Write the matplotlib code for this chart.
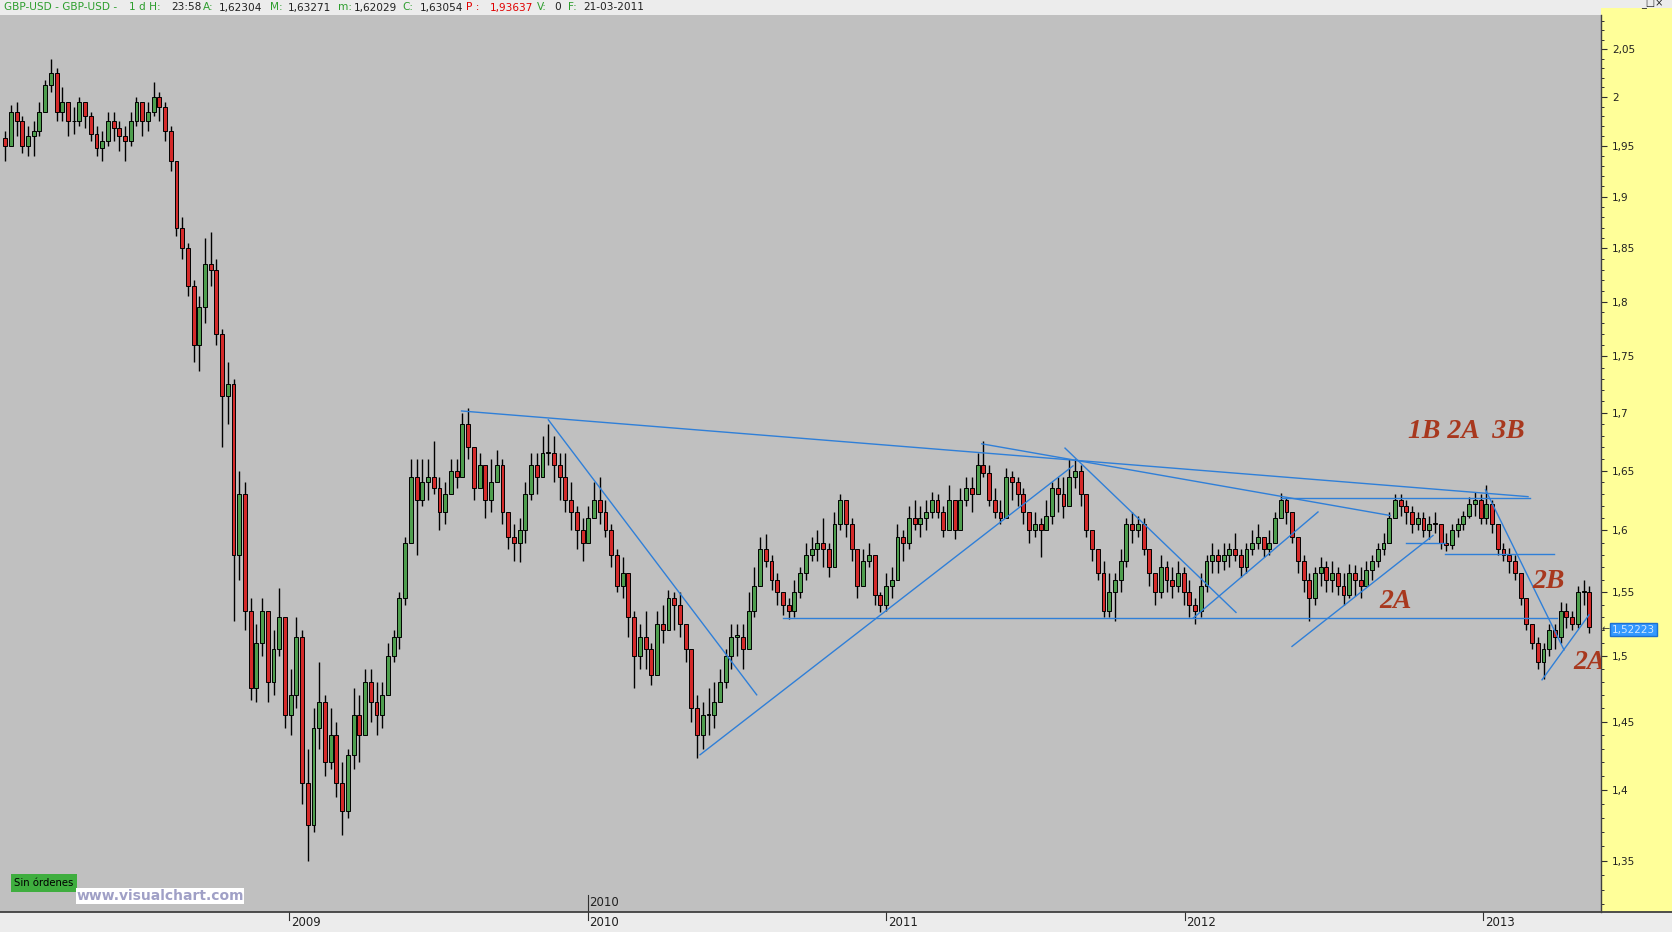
import numpy as np
import pandas as pd
import matplotlib
matplotlib.use("Agg")
import matplotlib.pyplot as plt
from matplotlib.patches import Rectangle
from matplotlib.lines import Line2D
from matplotlib.ticker import FixedLocator, FixedFormatter, NullFormatter

# ---------------- data (weekly GBP-USD candles) ----------------
first_open = 1.958
close = [
1.950,1.985,1.975,1.950,1.960,1.965,1.985,2.012,2.025,1.985,
1.995,1.975,1.975,1.995,1.980,1.962,1.948,1.955,1.975,1.968,
1.960,1.955,1.975,1.995,1.975,1.985,2.000,1.990,1.965,1.935,
1.870,1.850,1.815,1.760,1.795,1.835,1.830,1.770,1.715,1.725,
1.580,1.630,1.535,1.475,1.510,1.535,1.480,1.505,1.530,1.455,
1.470,1.515,1.405,1.375,1.445,1.465,1.420,1.440,1.405,1.385,
1.425,1.455,1.440,1.480,1.465,1.455,1.470,1.500,1.515,1.545,
1.590,1.645,1.625,1.640,1.645,1.635,1.615,1.630,1.650,1.645,
1.690,1.670,1.635,1.655,1.625,1.640,1.655,1.615,1.595,1.590,
1.600,1.630,1.655,1.645,1.665,1.665,1.655,1.645,1.625,1.615,
1.600,1.590,1.610,1.625,1.615,1.600,1.580,1.555,1.565,1.530,
1.500,1.515,1.505,1.485,1.525,1.520,1.545,1.540,1.525,1.505,
1.460,1.440,1.455,1.455,1.465,1.480,1.500,1.515,1.515,1.505,
1.535,1.555,1.585,1.575,1.560,1.550,1.540,1.535,1.550,1.565,
1.580,1.585,1.590,1.585,1.570,1.605,1.625,1.605,1.585,1.555,
1.575,1.580,1.548,1.540,1.555,1.560,1.595,1.590,1.610,1.605,
1.610,1.615,1.625,1.615,1.600,1.625,1.600,1.625,1.635,1.630,
1.655,1.648,1.625,1.615,1.610,1.645,1.640,1.630,1.615,1.600,
1.605,1.600,1.612,1.635,1.630,1.620,1.645,1.650,1.630,1.600,
1.585,1.565,1.535,1.550,1.560,1.575,1.605,1.600,1.605,1.585,
1.565,1.550,1.570,1.560,1.555,1.565,1.550,1.540,1.535,1.555,
1.575,1.580,1.575,1.580,1.585,1.580,1.570,1.585,1.590,1.595,
1.585,1.590,1.610,1.625,1.615,1.595,1.575,1.560,1.545,1.565,
1.570,1.560,1.565,1.555,1.548,1.565,1.560,1.555,1.568,1.575,
1.585,1.590,1.610,1.625,1.620,1.615,1.605,1.610,1.600,1.605,
1.605,1.590,1.588,1.600,1.605,1.612,1.622,1.625,1.610,1.622,
1.605,1.585,1.580,1.575,1.565,1.545,1.525,1.510,1.495,1.505,
1.520,1.515,1.535,1.530,1.525,1.550,1.550,1.5222]

high = [
1.965,1.992,1.995,1.980,1.970,1.975,1.995,2.018,2.040,2.030,
2.010,1.995,1.990,2.000,1.995,1.985,1.970,1.965,1.985,1.985,
1.975,1.970,1.985,2.000,1.995,1.995,2.015,2.005,1.995,1.970,
1.935,1.880,1.855,1.820,1.805,1.860,1.866,1.840,1.775,1.745,
1.730,1.650,1.640,1.545,1.525,1.545,1.535,1.520,1.553,1.530,
1.490,1.530,1.520,1.430,1.460,1.495,1.470,1.460,1.450,1.420,
1.430,1.475,1.470,1.490,1.490,1.480,1.480,1.510,1.520,1.550,
1.595,1.660,1.660,1.660,1.660,1.675,1.645,1.640,1.660,1.660,
1.700,1.704,1.670,1.665,1.655,1.660,1.668,1.660,1.610,1.605,
1.610,1.640,1.665,1.665,1.680,1.690,1.680,1.665,1.665,1.640,
1.620,1.610,1.620,1.640,1.645,1.625,1.605,1.585,1.578,1.560,
1.535,1.525,1.535,1.510,1.535,1.540,1.552,1.550,1.550,1.525,
1.505,1.470,1.465,1.475,1.480,1.490,1.505,1.525,1.525,1.525,
1.550,1.570,1.595,1.597,1.580,1.565,1.550,1.545,1.560,1.570,
1.590,1.595,1.600,1.610,1.590,1.615,1.630,1.625,1.610,1.580,
1.585,1.590,1.580,1.550,1.565,1.570,1.605,1.600,1.620,1.625,
1.620,1.625,1.632,1.630,1.620,1.638,1.625,1.635,1.645,1.645,
1.665,1.675,1.655,1.635,1.625,1.652,1.650,1.645,1.635,1.615,
1.615,1.610,1.625,1.640,1.645,1.645,1.660,1.660,1.655,1.620,
1.600,1.580,1.575,1.565,1.565,1.585,1.610,1.615,1.612,1.610,
1.585,1.565,1.580,1.575,1.570,1.575,1.570,1.560,1.545,1.565,
1.580,1.590,1.585,1.590,1.590,1.598,1.585,1.590,1.600,1.605,
1.595,1.600,1.615,1.631,1.628,1.615,1.595,1.580,1.565,1.570,
1.578,1.575,1.575,1.570,1.565,1.573,1.572,1.570,1.575,1.580,
1.590,1.598,1.615,1.630,1.630,1.625,1.620,1.615,1.615,1.612,
1.615,1.605,1.598,1.605,1.610,1.616,1.628,1.632,1.630,1.638,
1.625,1.605,1.590,1.586,1.580,1.565,1.545,1.525,1.515,1.510,
1.525,1.525,1.542,1.541,1.535,1.555,1.560,1.555]

low = [
1.935,1.950,1.960,1.943,1.940,1.940,1.960,1.985,2.005,1.975,
1.975,1.960,1.962,1.970,1.968,1.955,1.940,1.935,1.950,1.955,
1.945,1.935,1.950,1.970,1.960,1.965,1.980,1.975,1.955,1.925,
1.862,1.840,1.805,1.745,1.737,1.780,1.815,1.760,1.670,1.690,
1.527,1.560,1.520,1.466,1.465,1.500,1.465,1.470,1.500,1.445,
1.440,1.460,1.390,1.350,1.370,1.430,1.410,1.415,1.395,1.368,
1.380,1.415,1.420,1.440,1.450,1.440,1.445,1.475,1.495,1.505,
1.540,1.590,1.580,1.620,1.625,1.630,1.600,1.605,1.630,1.635,
1.645,1.660,1.625,1.635,1.610,1.615,1.640,1.605,1.585,1.575,
1.574,1.590,1.625,1.630,1.645,1.655,1.640,1.625,1.615,1.600,
1.585,1.575,1.590,1.610,1.605,1.595,1.570,1.550,1.545,1.515,
1.475,1.490,1.490,1.478,1.490,1.510,1.525,1.520,1.515,1.495,
1.450,1.423,1.430,1.440,1.445,1.465,1.475,1.490,1.500,1.490,
1.510,1.530,1.560,1.570,1.552,1.540,1.532,1.529,1.530,1.545,
1.560,1.575,1.575,1.570,1.562,1.580,1.600,1.595,1.575,1.545,
1.555,1.570,1.540,1.534,1.535,1.545,1.565,1.575,1.585,1.600,
1.595,1.600,1.610,1.610,1.595,1.600,1.593,1.600,1.620,1.615,
1.630,1.645,1.620,1.610,1.605,1.610,1.625,1.620,1.605,1.590,
1.595,1.578,1.600,1.605,1.615,1.610,1.620,1.635,1.620,1.595,
1.575,1.560,1.530,1.530,1.527,1.550,1.570,1.590,1.595,1.580,
1.555,1.540,1.545,1.550,1.545,1.550,1.540,1.530,1.525,1.530,
1.550,1.565,1.565,1.568,1.570,1.575,1.562,1.565,1.580,1.585,
1.578,1.580,1.590,1.610,1.605,1.590,1.565,1.550,1.527,1.540,
1.555,1.550,1.550,1.548,1.540,1.545,1.547,1.545,1.555,1.560,
1.570,1.580,1.590,1.610,1.612,1.605,1.598,1.600,1.595,1.593,
1.598,1.585,1.583,1.585,1.595,1.600,1.610,1.612,1.605,1.605,
1.598,1.580,1.575,1.565,1.560,1.540,1.520,1.505,1.490,1.482,
1.500,1.505,1.510,1.522,1.520,1.522,1.540,1.518]

week_start = "2008-01-19"

# trend lines drawn on the chart: (year0, price0, year1, price1)
trend_lines = [
    (2009.578, 1.7015, 2013.1508, 1.6281),
    (2011.3206, 1.6730, 2012.6884, 1.6124),
    (2012.3233, 1.6270, 2013.1575, 1.6270),
    (2009.8687, 1.6938, 2010.5668, 1.4702),
    (2010.3769, 1.4255, 2011.6265, 1.6541),
    (2010.6549, 1.5292, 2013.2479, 1.5292),
    (2011.5997, 1.6693, 2012.1725, 1.5339),
    (2012.0295, 1.5295, 2012.4472, 1.6153),
    (2012.3601, 1.5073, 2012.8325, 1.5959),
    (2012.7420, 1.5896, 2012.8727, 1.5896),
    (2012.8727, 1.5808, 2013.2379, 1.5808),
    (2013.0084, 1.6338, 2013.2714, 1.5046),
    (2013.1977, 1.4816, 2013.3551, 1.5320),
]

# wave labels: (text, year, price)
wave_labels = [
    ("1B 2A  3B", 2012.943, 1.6834),
    ("2A", 2012.7085, 1.5423),
    ("2B", 2013.2211, 1.5582),
    ("2A", 2013.3585, 1.4946),
]

y_major = [1.35, 1.40, 1.45, 1.50, 1.55, 1.60, 1.65, 1.70, 1.75, 1.80, 1.85, 1.90, 1.95, 2.00, 2.05]
y_major_labels = ["1,35", "1,4", "1,45", "1,5", "1,55", "1,6", "1,65", "1,7", "1,75", "1,8",
                  "1,85", "1,9", "1,95", "2", "2,05"]
years = [2009, 2010, 2011, 2012, 2013]
last_price_label = "1,52223"

# ---------------- figure ----------------
W, H = 1672, 932
fig = plt.figure(figsize=(W / 100, H / 100), dpi=100, facecolor="#ececec")

def fx(px):
    return px / W

def fy(py):
    return 1 - py / H

PLOT_R, PLOT_T, PLOT_B = 1601, 15, 912
ax = fig.add_axes([0, fy(PLOT_B), PLOT_R / W, (PLOT_B - PLOT_T) / H])
ax.set_facecolor("#c0c0c0")

# yellow price-axis panel
fig.patches.append(Rectangle((fx(PLOT_R), fy(PLOT_B)), (W - PLOT_R) / W, (PLOT_B - 8) / H,
                             transform=fig.transFigure, facecolor="#ffff99",
                             edgecolor="none", zorder=-1))
fig.lines.append(Line2D([0, 1], [fy(PLOT_B), fy(PLOT_B)], transform=fig.transFigure,
                        color="#404040", lw=1.3, zorder=5))

# x positions (decimal years)
dates = pd.date_range(week_start, periods=len(close), freq="7D")
days_in_year = np.where(dates.is_leap_year, 366, 365)
xpos = dates.year.values + (dates.dayofyear.values - 1) / days_in_year

c = np.array(close)
o = np.r_[first_open, c[:-1]]
h = np.maximum(np.array(high), np.maximum(o, c))
l = np.minimum(np.array(low), np.minimum(o, c))

step = 7 / 365.25
up = c >= o
colors = np.where(up, "#4e9e4e", "#d42a2a")
ax.vlines(xpos, l, h, color="black", lw=1.0, zorder=2)
ax.bar(xpos, np.maximum(np.abs(c - o), 0.0008), bottom=np.minimum(o, c), width=step * 0.68,
       color=colors, edgecolor="black", linewidth=0.7, zorder=3)

for x0, p0, x1, p1 in trend_lines:
    ax.plot([x0, x1], [p0, p1], color="#2f7fd8", lw=1.0, zorder=4)

for txt, xv, pv in wave_labels:
    ax.text(xv, pv, txt, ha="center", va="center", fontsize=20, color="#a8381e",
            fontweight="bold", fontstyle="italic", family=["Liberation Serif", "DejaVu Serif"],
            zorder=6, clip_on=True)

ax.set_yscale("log")
ax.set_ylim(1.3147, 2.0862)
ax.set_xlim(2008.0318, 2013.3953)

ax.yaxis.tick_right()
ax.yaxis.set_major_locator(FixedLocator(y_major))
ax.yaxis.set_major_formatter(FixedFormatter(y_major_labels))
minor = [round(v, 2) for v in np.arange(1.32, 2.085, 0.01) if all(abs(v - m) > 1e-6 for m in y_major)]
ax.yaxis.set_minor_locator(FixedLocator(minor))
ax.yaxis.set_minor_formatter(NullFormatter())
ax.tick_params(axis="y", which="major", direction="out", length=4, width=0.8,
               color="#303030", pad=4, labelsize=7.5, labelcolor="#202020")
ax.tick_params(axis="y", which="minor", direction="out", length=2.2, width=0.7, color="#303030")
ax.set_xticks([])
for side in ["top", "left", "bottom"]:
    ax.spines[side].set_visible(False)
ax.spines["right"].set_color("#404040")
ax.spines["right"].set_linewidth(1.0)

# bottom date strip
axb = fig.add_axes([0, 0, PLOT_R / W, (H - PLOT_B) / H])
axb.set_xlim(ax.get_xlim())
axb.set_ylim(0, 1)
axb.axis("off")
narrow = ["Liberation Sans Narrow", "DejaVu Sans"]
for yr in years:
    axb.plot([yr, yr], [0.62, 1.0], color="#303030", lw=0.8)
    axb.text(yr + 0.006, 0.47, str(yr), ha="left", va="center", fontsize=8.5,
             color="#202020", family=narrow)

# cursor date label above the axis
xt = ax.get_xaxis_transform()
ax.plot([2010, 2010], [0, 17 / 897], transform=xt, color="#303030", lw=0.8, clip_on=False)
ax.text(2010.006, 9 / 897, "2010", transform=xt, ha="left", va="center", fontsize=8.5,
        color="#202020", family=narrow)

# overlays
fig.text(fx(44), fy(883), "Sin \u00f3rdenes", ha="center", va="center", fontsize=7.3,
         color="black", bbox=dict(boxstyle="square,pad=0.35", facecolor="#3fae3f", edgecolor="none"))
fig.text(fx(160), fy(896), "www.visualchart.com", ha="center", va="center", fontsize=10,
         fontweight="bold", color="#a0a0c6",
         bbox=dict(boxstyle="square,pad=0.05", facecolor="white", edgecolor="none"))

# last price marker
fig.text(fx(1606), fy(629.5), "\u2190", ha="center", va="center", fontsize=7, color="#303030")
fig.text(fx(1633.5), fy(629.5), last_price_label, ha="center", va="center", fontsize=7.5,
         color="#cfe6ff", bbox=dict(boxstyle="square,pad=0.18", facecolor="#3399ff", edgecolor="#1c6fd0"))

# header
G, K, R = "#2e9e2e", "#202020", "#e00000"
header = [(4, "GBP-USD - GBP-USD -", G), (129, "1 d H:", G), (171, "23:58", K),
          (203, "A:", G), (219, "1,62304", K), (270, "M:", G), (288, "1,63271", K),
          (338, "m:", G), (354, "1,62029", K), (402, "C:", G), (420, "1,63054", K),
          (466, "P :", R), (490, "1,93637", R), (537, "V:", G), (554, "0", K),
          (568, "F:", G), (583, "21-03-2011", K)]
for px, txt, col in header:
    fig.text(fx(px), fy(7.5), txt, ha="left", va="center", fontsize=7.6, color=col)
fig.text(fx(1652), fy(4), "_\u25a1\u00d7", ha="center", va="center", fontsize=7, color="#202020")

fig.savefig("out.png", dpi=100, facecolor=fig.get_facecolor())
